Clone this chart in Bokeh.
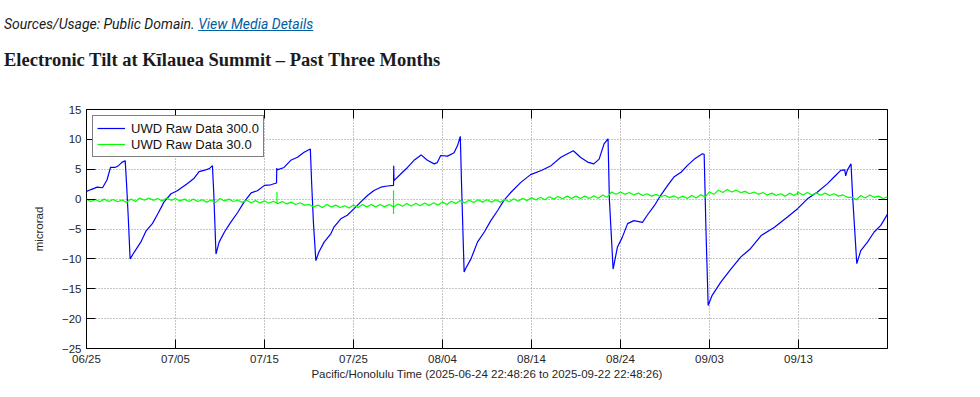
import numpy as np
import pandas as pd
from bokeh.plotting import figure
from bokeh.models import (Div, ColumnDataSource, FixedTicker, DatetimeTickFormatter,
                          LinearAxis, DatetimeAxis, Range1d, CustomJSTickFormatter)
from bokeh.layouts import column
from bokeh.embed import file_html
from bokeh.resources import INLINE

# ---------------- data (days since 2025-06-25 00:00, microrad) ----------------
start_date = "2025-06-25"
span_days = 90

blue_days = [0.0, 0.5, 1.2, 1.8, 2.3, 2.7, 3.2, 3.6, 4.0, 4.35, 4.5, 4.7, 4.9, 5.35, 6.1, 6.7, 7.4, 8.0,
             8.7, 9.5, 10.2, 11.35, 12.1, 12.65, 13.2, 13.8, 14.15, 14.3, 14.55, 14.9, 15.5, 16.2, 17.0,
             17.7, 18.5, 19.2, 20.0, 20.7, 21.35, 21.38, 21.42, 22.2, 22.95, 23.7, 24.45, 25.15, 25.3,
             25.5, 25.77, 26.1, 26.7, 27.45, 27.8, 28.57, 29.3, 30.07, 30.8, 31.57, 32.3, 33.07, 33.8,
             34.5, 34.52, 34.55, 35.3, 36.07, 36.8, 37.6, 38.3, 39.06, 39.4, 39.8, 40.56, 41.3, 41.7,
             42.0, 42.15, 42.43, 42.6, 43.2, 43.93, 44.7, 45.43, 46.2, 46.9, 47.7, 48.8, 49.9, 51.1,
             52.2, 53.3, 54.05, 54.7, 55.5, 56.3, 57.0, 57.6, 58.15, 58.6, 58.75, 59.17, 59.66, 60.2,
             60.8, 61.5, 62.47, 63.0, 63.8, 64.5, 65.3, 66.0, 66.8, 67.5, 68.3, 69.2, 69.4, 69.6,
             69.85, 70.3, 71.27, 72.4, 73.5, 74.6, 75.8, 77.3, 78.76, 79.9, 81.0, 82.1, 83.26, 84.0,
             84.75, 85.2, 85.3, 85.5, 85.9, 86.1, 86.55, 87.0, 87.75, 88.5, 89.25, 90.0]
blue_vals = [1.3, 1.6, 2.0, 1.9, 3.2, 5.3, 5.3, 5.6, 6.2, 6.4, 2.6, -3.3, -10.0, -8.9, -7.2, -5.3, -4.1, -2.5,
             -0.5, 0.9, 1.4, 2.6, 3.5, 4.6, 4.8, 5.1, 5.6, 1.0, -9.2, -7.2, -5.5, -3.9, -2.2,
             -0.5, 1.05, 1.4, 2.3, 2.4, 2.7, 5.2, 4.9, 5.3, 6.5, 7.0, 7.85, 8.4, 2.6,
             -4.0, -10.3, -8.9, -7.2, -5.8, -4.7, -3.3, -2.7, -1.6, -0.5, 0.6, 1.45, 2.0, 2.2,
             2.3, 5.6, 3.1, 4.2, 5.3, 6.5, 7.4, 6.5, 5.9, 6.1, 7.3, 7.2, 7.75, 9.0,
             10.5, 2.0, -12.2, -11.6, -10.0, -7.2, -5.5, -3.6, -1.9, -0.2, 1.15, 2.8, 4.1, 4.8,
             5.6, 7.0, 7.6, 8.1, 7.0, 6.2, 5.9, 6.7, 9.25, 10.1, 0.0, -11.7, -8.0, -6.4,
             -4.1, -3.6, -3.9, -2.7, -1.1, 0.6, 2.3, 3.7, 4.5, 5.6, 6.7, 7.6, 7.5, -5.0,
             -17.8, -16.1, -13.9, -11.7, -9.7, -8.3, -6.1, -4.7, -3.0, -1.6, 0.05, 1.15, 2.6, 3.7,
             4.8, 4.9, 3.9, 4.9, 5.9, 0.0, -10.8, -8.6, -7.2, -5.5, -4.4, -2.5]

# green series sampled every half day (alternating tidal highs / lows)
green_step = 0.5
green_vals = [
    0.0, -0.4, -0.05, -0.45, 0.0, -0.4, -0.05, -0.45, -0.15, -0.55,   # d0-4.5
    0.0, -0.4, 0.2, -0.2, 0.2, -0.2, 0.1, -0.3, 0.2, -0.2,           # d5-9.5
    0.1, -0.3, 0.0, -0.4, 0.0, -0.4, -0.1, -0.5, -0.15, -0.55,       # d10-14.5
    0.1, -0.3, 0.0, -0.4, -0.15, -0.55, -0.2, -0.6, -0.25, -0.65,    # d15-19.5
    -0.3, -0.7, -0.35, -0.75, -0.4, -0.8, -0.5, -0.9, -0.6, -1.0,    # d20-24.5
    -0.9, -1.3, -1.0, -1.4, -0.9, -1.3, -1.0, -1.4, -1.1, -1.5,      # d25-29.5
    -1.0, -1.4, -0.9, -1.3, -0.9, -1.3, -0.9, -1.3, -0.9, -1.3,      # d30-34.5
    -0.8, -1.2, -0.75, -1.15, -0.7, -1.1, -0.65, -1.05, -0.6, -1.0,  # d35-39.5
    -0.5, -0.9, -0.35, -0.75, -0.25, -0.65, -0.15, -0.55, -0.1, -0.5, # d40-44.5
    -0.1, -0.5, -0.1, -0.5, -0.05, -0.45, 0.05, -0.35, 0.15, -0.25,  # d45-49.5
    0.25, -0.15, 0.3, -0.1, 0.4, 0.0, 0.45, 0.05, 0.5, 0.1,          # d50-54.5
    0.5, 0.1, 0.5, 0.1, 0.55, 0.15, 0.7, 0.3, 1.2, 0.8,              # d55-59.5
    1.2, 0.8, 1.1, 0.7, 1.0, 0.6, 0.9, 0.5, 0.8, 0.4,                # d60-64.5
    0.65, 0.25, 0.55, 0.15, 0.5, 0.1, 0.6, 0.2, 0.75, 0.35,          # d65-69.5
    1.2, 0.8, 1.5, 1.1, 1.6, 1.2, 1.5, 1.1, 1.3, 0.9,                # d70-74.5
    1.2, 0.8, 1.1, 0.7, 1.0, 0.6, 0.9, 0.5, 1.0, 0.6,                # d75-79.5
    1.1, 0.7, 1.1, 0.7, 1.05, 0.65, 1.0, 0.6, 0.9, 0.5,              # d80-84.5
    0.7, 0.3, 0.3, -0.1, 0.6, 0.2, 0.7, 0.3, 0.5, 0.1,               # d85-89.5
    0.4]                                                             # d90
green_spike_days = [21.4, 34.5, 79.9]
green_spike_lo = [-0.6, -2.5, 0.7]
green_spike_hi = [1.2, 1.5, 1.3]

y_ticks = [-25, -20, -15, -10, -5, 0, 5, 10, 15]
x_tick_labels = ["06/25", "07/05", "07/15", "07/25", "08/04", "08/14", "08/24", "09/03", "09/13"]

series_names = ["UWD Raw Data 300.0", "UWD Raw Data 30.0"]
x_title = "Pacific/Honolulu Time (2025-06-24 22:48:26 to 2025-09-22 22:48:26)"
y_title = "microrad"

# ---------------- conversions ----------------
t0 = pd.Timestamp(start_date)
def to_dt(days):
    return [t0 + pd.Timedelta(days=float(d)) for d in days]

green_days = [i * green_step for i in range(len(green_vals))]
blue_src = ColumnDataSource(dict(x=to_dt(blue_days), y=blue_vals))
green_src = ColumnDataSource(dict(x=to_dt(green_days), y=green_vals))
spike_src = ColumnDataSource(dict(x=to_dt(green_spike_days), y0=green_spike_lo, y1=green_spike_hi))

tick_ms = [pd.Timestamp("2025/" + s).value / 1e6 for s in x_tick_labels]

# ---------------- header ----------------
header = Div(
    text=(
        '<div style="position:relative;width:972px;height:101px;">'
        '<div style="position:absolute;left:4px;top:17px;white-space:nowrap;'
        'font-family:Roboto;font-style:italic;font-size:14px;line-height:14px;color:#1b1b1b;">'
        'Sources/Usage: Public Domain. '
        '<span style="color:#005ea2;text-decoration:underline;">View Media Details</span></div>'
        '<div style="position:absolute;left:4px;top:51px;white-space:nowrap;'
        'font-family:\'Liberation Serif\';font-weight:bold;font-size:18.5px;line-height:18.5px;color:#1b1b1b;">'
        'Electronic Tilt at K\u012blauea Summit \u2013 Past Three Months</div>'
        '</div>'
    ),
    width=972, height=101, margin=0,
)

# ---------------- figure ----------------
p = figure(x_axis_type="datetime", output_backend="svg", toolbar_location=None,
           frame_width=801, frame_height=239,
           min_border_left=86, min_border_right=85, min_border_top=8, min_border_bottom=41,
           x_range=Range1d(t0, t0 + pd.Timedelta(days=span_days)),
           y_range=Range1d(y_ticks[0], y_ticks[-1]), margin=0)
p.background_fill_color = "white"
p.border_fill_color = "white"
p.outline_line_color = "black"
p.outline_line_width = 1

FONT = "Liberation Sans"
TXT = "#262626"

def style_axis(ax, labels=True):
    ax.axis_line_color = None
    ax.major_tick_in = 9
    ax.major_tick_out = 0
    ax.minor_tick_line_color = None
    ax.major_tick_line_color = "black"
    ax.major_label_text_font = FONT
    ax.major_label_text_font_size = "11.5px"
    ax.major_label_text_color = TXT
    if not labels:
        ax.formatter = CustomJSTickFormatter(code="return ''")
        ax.major_label_standoff = 0

p.xaxis.ticker = FixedTicker(ticks=tick_ms)
p.xaxis.formatter = DatetimeTickFormatter(days="%m/%d", months="%m/%d", years="%m/%d",
                                          hours="%m/%d", minutes="%m/%d")
p.yaxis.ticker = FixedTicker(ticks=y_ticks)
style_axis(p.xaxis[0])
style_axis(p.yaxis[0])
p.xaxis.major_label_standoff = 4
p.yaxis.major_label_standoff = 5
p.xaxis.axis_label = x_title
p.yaxis.axis_label = y_title
for ax in (p.xaxis[0], p.yaxis[0]):
    ax.axis_label_text_font = FONT
    ax.axis_label_text_font_size = "11.5px"
    ax.axis_label_text_font_style = "normal"
    ax.axis_label_text_color = TXT
p.xaxis.axis_label_standoff = 0
p.yaxis.axis_label_standoff = 14

top_ax = DatetimeAxis(ticker=FixedTicker(ticks=tick_ms))
style_axis(top_ax, labels=False)
p.add_layout(top_ax, "above")
right_ax = LinearAxis(ticker=FixedTicker(ticks=y_ticks))
style_axis(right_ax, labels=False)
p.add_layout(right_ax, "right")

for g in (p.xgrid[0], p.ygrid[0]):
    g.grid_line_color = "#8c8c8c"
    g.grid_line_dash = "1 2"
    g.grid_line_width = 1
p.xgrid.ticker = FixedTicker(ticks=tick_ms)
p.ygrid.ticker = FixedTicker(ticks=y_ticks)

p.line("x", "y", source=blue_src, color="#0000ff", line_width=1.2, legend_label=series_names[0])
p.line("x", "y", source=green_src, color="#00ff00", line_width=1.2, legend_label=series_names[1])
p.segment(x0="x", y0="y0", x1="x", y1="y1", source=spike_src, color="#00ff00", line_width=1.2)

lg = p.legend[0]
lg.location = "top_left"
lg.margin = 6
lg.padding = 4
lg.spacing = 0
lg.label_height = 16
lg.glyph_height = 16
lg.glyph_width = 28
lg.label_standoff = 6
lg.label_text_font = FONT
lg.label_text_font_size = "13px"
lg.label_text_color = "#111111"
lg.border_line_color = "black"
lg.border_line_width = 1
lg.background_fill_color = "white"
lg.background_fill_alpha = 1.0

layout = column(header, p, spacing=0, margin=0)
open("out.html", "w").write(file_html(layout, INLINE))
